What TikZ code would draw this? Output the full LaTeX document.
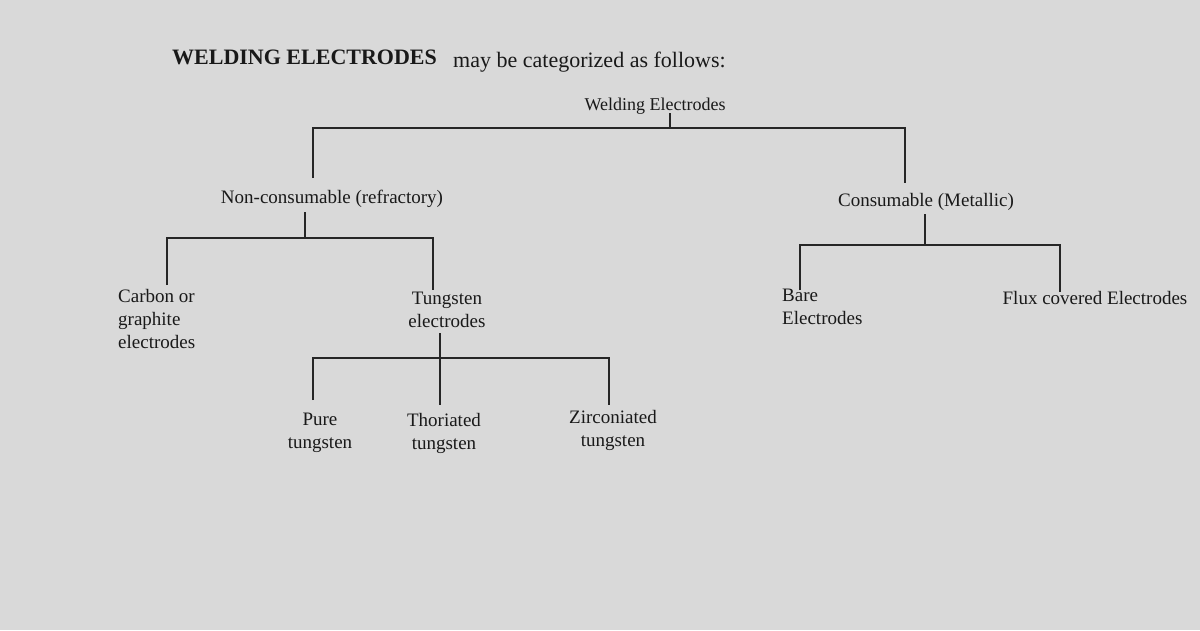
\documentclass[tikz,border=0pt]{standalone}
\usepackage{fontspec}
\setmainfont{Liberation Serif}
\begin{document}
\begin{tikzpicture}[x=1pt,y=-1pt,
  lbl/.style={font=\fontsize{19}{23}\selectfont, text=black!90, inner sep=0pt, align=center},
  lbll/.style={lbl, anchor=west, align=left},
  ln/.style={draw=black!85, line width=1.2pt}]
\fill[black!15] (0,0) rectangle (1200,630);
\useasboundingbox (0,0) rectangle (1200,630);
\node[anchor=west, inner sep=0pt, font=\fontsize{22}{26}\selectfont\bfseries, text=black!90] (title) at (172,57) {WELDING ELECTRODES};
\node[anchor=west, inner sep=0pt, font=\fontsize{22}{26}\selectfont, text=black!90] (sub) at (453,62) {may be categorized as follows:};
\node[lbl, font=\fontsize{18}{22}\selectfont] (root) at (655,106) {Welding Electrodes};
\node[lbl] (nc) at (332,199) {Non-consumable (refractory)};
\node[lbl] (co) at (926,202) {Consumable (Metallic)};
\node[lbll, anchor=north west] (cg) at (118,289) {Carbon or\\graphite\\electrodes};
\node[lbl, anchor=north] (tu) at (447,292) {Tungsten\\electrodes};
\node[lbl, anchor=north] (pt) at (320,413) {Pure\\tungsten};
\node[lbl, anchor=north] (th) at (444,413) {Thoriated\\tungsten};
\node[lbl, anchor=north] (zr) at (613,410) {Zirconiated\\tungsten};
\node[lbll, anchor=north west] (ba) at (782,289) {Bare\\Electrodes};
\node[lbl] (fl) at (1095,298) {Flux covered Electrodes};
\coordinate (r0) at (670,113);
\draw[ln] (r0) -- (670,128);
\draw[ln] (313,178) -- (313,128) -- (905,128) -- (905,183);
\draw[ln] (305,212) -- (305,238);
\draw[ln] (167,285) -- (167,238) -- (433,238) -- (433,290);
\draw[ln] (440,333) -- (440,358);
\draw[ln] (313,400) -- (313,358) -- (609,358) -- (609,405);
\draw[ln] (440,358) -- (440,405);
\draw[ln] (925,214) -- (925,245);
\draw[ln] (800,290) -- (800,245) -- (1060,245) -- (1060,292);
\end{tikzpicture}
\end{document}
